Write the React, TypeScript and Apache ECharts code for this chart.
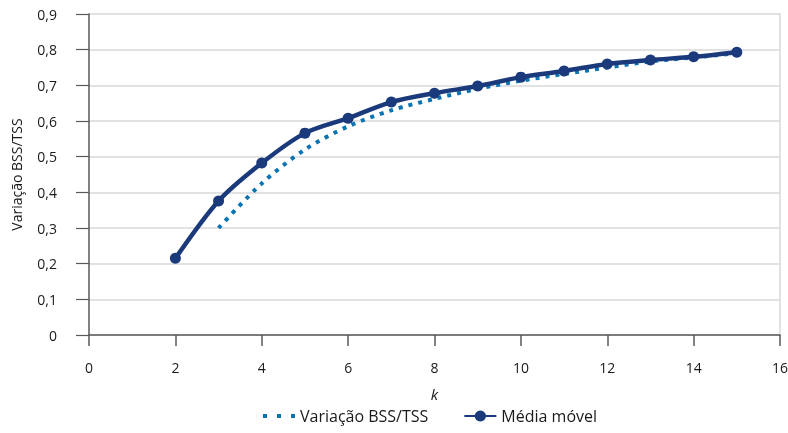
import React, { useEffect, useRef } from "react";
import * as echarts from "echarts";

const kMedia = [2, 3, 4, 5, 6, 7, 8, 9, 10, 11, 12, 13, 14, 15];
const mediaMovel = [0.215, 0.376, 0.482, 0.566, 0.608, 0.653, 0.678, 0.698, 0.723, 0.740, 0.760, 0.771, 0.780, 0.793];
const kVar = [3, 4, 5, 6, 7, 8, 9, 10, 11, 12, 13, 14, 15];
const variacao = [0.30, 0.425, 0.52, 0.585, 0.630, 0.662, 0.690, 0.713, 0.732, 0.750, 0.767, 0.778, 0.790];
const yTicks = [0, 0.1, 0.2, 0.3, 0.4, 0.5, 0.6, 0.7, 0.8, 0.9];

const FONT = "'Open Sans', 'Noto Sans', sans-serif";
const NAVY = "#1b3a7c";
const BLUE = "#0a74b3";

export default function App() {
  const ref = useRef<HTMLDivElement>(null);
  useEffect(() => {
    const chart = echarts.init(ref.current!, undefined, { renderer: "svg" });
    chart.setOption({
      animation: false,
      textStyle: { fontFamily: FONT },
      grid: { left: 89, right: 8, top: 14, bottom: 98, containLabel: false, outerBoundsMode: "none" },
      legend: {
        bottom: 4,
        left: 258,
        itemWidth: 32,
        itemHeight: 14,
        itemGap: 35,
        textStyle: { fontSize: 16, color: "#1a1a1a", fontFamily: FONT },
        data: [
          {
            name: "Variação BSS/TSS",
            icon: "path://M0,0h4v4h-4z M14,0h4v4h-4z M28,0h4v4h-4z",
            itemStyle: { color: BLUE, borderWidth: 0 },
          },
          { name: "Média móvel" },
        ],
      },
      xAxis: {
        type: "value",
        min: 0,
        max: 16,
        interval: 2,
        name: "k",
        nameLocation: "middle",
        nameGap: 51,
        nameTextStyle: { fontStyle: "italic", fontSize: 15, color: "#1a1a1a" },
        axisLine: { show: true, lineStyle: { color: "#595959", width: 1.5 } },
        axisTick: { show: true, length: 11, lineStyle: { color: "#595959", width: 1.5 } },
        axisLabel: { margin: 25, fontSize: 14, color: "#1a1a1a" },
        splitLine: { show: false },
      },
      yAxis: [
        {
          type: "value",
          min: yTicks[0],
          max: yTicks[yTicks.length - 1],
          interval: 0.1,
          name: "Variação BSS/TSS",
          nameLocation: "middle",
          nameGap: 66,
          nameTextStyle: { fontSize: 14, color: "#1a1a1a" },
          axisLine: { show: true, lineStyle: { color: "#595959", width: 1.5 } },
          axisTick: { show: true, length: 13, lineStyle: { color: "#595959", width: 1.2 } },
          axisLabel: {
            margin: 32,
            fontSize: 14,
            color: "#1a1a1a",
            formatter: (v: number) => (v === 0 ? "0" : v.toFixed(1).replace(".", ",")),
          },
          splitLine: { show: true, lineStyle: { color: "#d9d9d9", width: 1.5 } },
        },
        {
          type: "value",
          position: "right",
          min: yTicks[0],
          max: yTicks[yTicks.length - 1],
          interval: 0.1,
          axisLine: { show: true, lineStyle: { color: "#d9d9d9", width: 1.5 } },
          axisTick: { show: false },
          axisLabel: { show: false },
          splitLine: { show: false },
        },
      ],
      series: [
        {
          name: "Variação BSS/TSS",
          type: "line",
          smooth: 0.3,
          symbol: "none",
          data: kVar.map((k, i) => [k, variacao[i]]),
          lineStyle: { color: BLUE, width: 4, type: [4, 6] },
          itemStyle: { color: BLUE },
          z: 2,
        },
        {
          name: "Média móvel",
          type: "line",
          smooth: 0.3,
          symbol: "circle",
          symbolSize: 11,
          data: kMedia.map((k, i) => [k, mediaMovel[i]]),
          lineStyle: { color: NAVY, width: 4.5 },
          itemStyle: { color: NAVY },
          z: 3,
        },
      ],
    });
    return () => chart.dispose();
  }, []);
  return (
    <div
      ref={ref}
      style={{ position: "fixed", left: 0, top: 0, width: 788, height: 433 }}
    />
  );
}
